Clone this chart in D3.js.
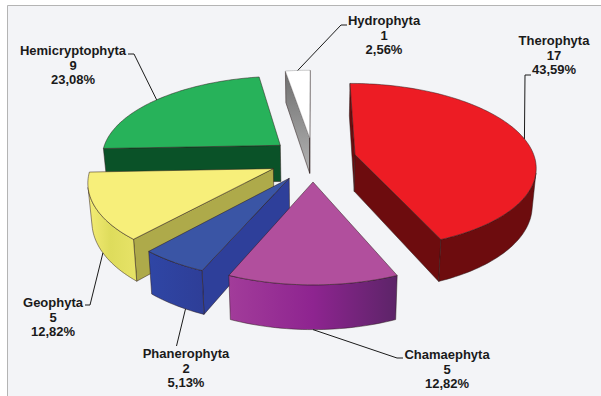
<!DOCTYPE html>
<html>
<head>
<meta charset="utf-8">
<script src="https://cdn.jsdelivr.net/npm/d3@7/dist/d3.min.js"></script>
<style>
  html, body { margin: 0; padding: 0; background: #fff; }
  svg { display: block; }
  text { font-family: "Liberation Sans", Arial, sans-serif; font-weight: bold; font-size: 13px; fill: #1a1a1a; }
</style>
</head>
<body>
<svg id="chart" width="601" height="396"></svg>
<script>
// Life-form spectrum: number of species per class
const categories = ["Therophyta", "Chamaephyta", "Phanerophyta", "Geophyta", "Hemicryptophyta", "Hydrophyta"];
const counts = [17, 5, 2, 5, 9, 1];

const topColors = ["#ed1c24", "#b14f9d", "#3a55a5", "#f7ef7a", "#27b25a", "#ffffff"];
const radialColors = ["#6d0c0e", "#7a2a80", "#2e3f9a", "#aeaa4a", "#0a5228", "#8a8a8a"];
// Colour stops along the curved wall, in clockwise order
const arcStops = [
  ["#6d0c0e", "#6d0c0e"],
  ["#5c2468", "#8e2490", "#a23c9a"],
  ["#2e3e98", "#2f46a5"],
  ["#e6e266", "#dedc5c", "#f4ec76"],
  ["#0a5228", "#0a5228"],
  ["#8a8a8a", "#8a8a8a"]
];
// Draw order, back to front
const paintOrder = [5, 4, 3, 2, 0, 1];

// Label block centre and first baseline, with the leader's rim angle and elbow points
const labelCentre = [[554, 45], [447, 359], [186, 358], [53, 307], [73, 55], [384, 25]];
const leaderAngle = [78.5, 180, 209, 241, 309, 355.4];
const leaderElbow = [
  [[525, 75], [531, 75]],
  [[397, 358], [403, 358]],
  [[176.5, 346]],
  [[90, 305], [85, 305]],
  [[134, 54], [128, 54]],
  [[341, 25], [347, 25]]
];

const W = 601, H = 396;
const svg = d3.select("#chart");

// Plot panel: pale ground with a grey rule along the top and left
svg.append("rect").attr("x", 7).attr("y", 5).attr("width", W - 7).attr("height", H - 5).attr("fill", "#f3f4f7");
svg.append("path").attr("d", `M7.5,${H}V5.5H${W}`).attr("fill", "none").attr("stroke", "#b4b4b4").attr("stroke-width", 1);

// Perspective view of the ground plane: v runs away from the viewer, in radius units
const radius = 180, explodeU = 0.24, explodeV = 0.27, depth = 37;
const centreX = 313, centreY = 159, foreshorten = 82, recede = 0.136, footInset = 0.018;
function project(u, v, z) {
  const w = 1 + recede * v;
  return [centreX + ((u * radius) / w) * (1 - footInset * z), centreY - (foreshorten * v) / w + (z * depth) / w];
}
function slicePoint(d, angle, r, z) {
  const mid = (d.startAngle + d.endAngle) / 2;
  const u = explodeU * Math.sin(mid) + r * Math.sin(angle);
  const v = explodeV * Math.cos(mid) + r * Math.cos(angle);
  return project(u, v, z);
}

const pie = d3.pie().sort(null).startAngle(0).endAngle(2 * Math.PI);
const slices = pie(counts);
const pathOf = d3.line();
const edgeColour = "#2a1a1a";

const defs = svg.append("defs");
// White slice's side wall lightens toward the hub
const sideGrad = defs.append("linearGradient").attr("id", "sideGrey").attr("x1", 0).attr("y1", 0).attr("x2", 0).attr("y2", 1);
sideGrad.append("stop").attr("offset", 0).attr("stop-color", "#6e6e6e");
sideGrad.append("stop").attr("offset", 1).attr("stop-color", "#b4b4b4");

function signedArea(q) {
  return d3.sum(q, (p, i) => {
    const n = q[(i + 1) % q.length];
    return p[0] * n[1] - n[0] * p[1];
  });
}

paintOrder.forEach(i => {
  const d = slices[i];
  const g = svg.append("g").attr("class", "slice");
  const steps = Math.max(12, Math.round((d.endAngle - d.startAngle) * 40));
  const angles = d3.range(steps + 1).map(k => d.startAngle + (k / steps) * (d.endAngle - d.startAngle));

  // Radial walls, kept only where they face the viewer
  const apexTop = slicePoint(d, 0, 0, 0), apexBot = slicePoint(d, 0, 0, 1);
  [d.startAngle, d.endAngle].forEach((a, side) => {
    const rimTop = slicePoint(d, a, 1, 0), rimBot = slicePoint(d, a, 1, 1);
    const quad = side === 0 ? [apexTop, rimTop, rimBot, apexBot] : [rimTop, apexTop, apexBot, rimBot];
    if (signedArea(quad) < 0) {
      g.append("path").attr("d", pathOf(quad) + "Z")
        .attr("fill", i === 5 ? "url(#sideGrey)" : radialColors[i])
        .attr("stroke", edgeColour).attr("stroke-width", 0.5);
    }
  });

  // Curved wall: the run of rim facing the viewer, shaded with a horizontal gradient
  const visibleTop = [], visibleBot = [];
  d3.pairs(angles).forEach(([a, b]) => {
    const quad = [slicePoint(d, a, 1, 0), slicePoint(d, b, 1, 0), slicePoint(d, b, 1, 1), slicePoint(d, a, 1, 1)];
    if (signedArea(quad) < 0) {
      if (!visibleTop.length) { visibleTop.push(quad[0]); visibleBot.push(quad[3]); }
      visibleTop.push(quad[1]);
      visibleBot.push(quad[2]);
    }
  });
  if (visibleTop.length) {
    const first = visibleTop[0], last = visibleTop[visibleTop.length - 1];
    const grad = defs.append("linearGradient").attr("id", "wall" + i)
      .attr("gradientUnits", "userSpaceOnUse")
      .attr("x1", first[0]).attr("y1", 0).attr("x2", last[0]).attr("y2", 0);
    arcStops[i].forEach((c, k) => {
      grad.append("stop").attr("offset", k / (arcStops[i].length - 1)).attr("stop-color", c);
    });
    const outline = visibleTop.concat(visibleBot.slice().reverse());
    g.append("path").attr("d", pathOf(outline) + "Z").attr("fill", `url(#wall${i})`)
      .attr("stroke", edgeColour).attr("stroke-width", 0.5);
  }

  // Top face
  const face = [apexTop].concat(angles.map(a => slicePoint(d, a, 1, 0)));
  g.append("path").attr("d", pathOf(face) + "Z")
    .attr("fill", topColors[i])
    .attr("stroke", i === 5 ? "#9a9a9a" : edgeColour).attr("stroke-width", 0.5).attr("stroke-linejoin", "round");
});

// Leaders run from the rim to the label; front slices attach at the wall's foot
const total = d3.sum(counts);
const percent = d3.format(".2f");
slices.forEach((d, i) => {
  const a = (leaderAngle[i] * Math.PI) / 180;
  const anchor = slicePoint(d, a, 1, Math.cos(a) < 0 ? 1 : 0);
  svg.append("path").attr("d", pathOf([anchor].concat(leaderElbow[i])))
    .attr("fill", "none").attr("stroke", "#1a1a1a").attr("stroke-width", 1);

  const [cx, y] = labelCentre[i];
  const lines = [categories[i], String(counts[i]), percent((counts[i] / total) * 100).replace(".", ",") + "%"];
  const t = svg.append("text").attr("text-anchor", "middle");
  lines.forEach((line, k) => {
    t.append("tspan").attr("x", cx).attr("y", y + k * 14.5).text(line);
  });
});
</script>
</body>
</html>
